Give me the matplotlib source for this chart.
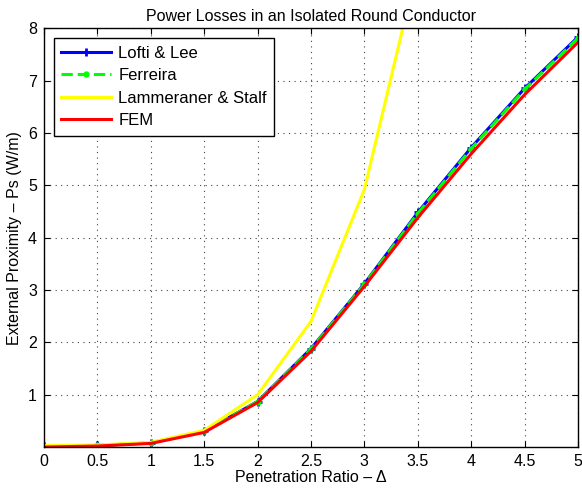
import matplotlib
matplotlib.use('Agg')
import matplotlib.pyplot as plt

plt.rcParams['font.family'] = ['Liberation Sans', 'DejaVu Sans']

# penetration ratio
delta = [0, 0.5, 1, 1.5, 2, 2.5, 3, 3.5, 4, 4.5, 5]

# losses (W/m)
lofti_lee = [0.02, 0.03, 0.08, 0.30, 0.87, 1.88, 3.12, 4.48, 5.72, 6.85, 7.83]
ferreira = [0.02, 0.03, 0.08, 0.30, 0.87, 1.87, 3.11, 4.46, 5.70, 6.83, 7.81]
lammeraner = [0.03, 0.04, 0.09, 0.32, 1.00, 2.40, 4.92, 9.20, 14.0, 20.0, 27.0]
fem = [0.00, 0.02, 0.07, 0.28, 0.85, 1.83, 3.07, 4.38, 5.60, 6.73, 7.73]

xticks = [0, 0.5, 1, 1.5, 2, 2.5, 3, 3.5, 4, 4.5, 5]
xticklabels = ['0', '0.5', '1', '1.5', '2', '2.5', '3', '3.5', '4', '4.5', '5']
yticks = [1, 2, 3, 4, 5, 6, 7, 8]

fs = 11.5

fig = plt.figure(figsize=(5.82, 4.94), dpi=100)
ax = fig.add_axes([0.0756, 0.095, 0.9175, 0.848])

ax.plot(delta, lofti_lee, color='blue', lw=2.2, marker='+', ms=6, mew=2, label='Lofti & Lee')
ax.plot(delta, ferreira, color='#00ff00', lw=2.2, ls='--', marker='.', ms=7, label='Ferreira')
ax.plot(delta, lammeraner, color='yellow', lw=2.2, label='Lammeraner & Stalf')
ax.plot(delta, fem, color='red', lw=2.2, label='FEM')

ax.set_xlim(0, 5)
ax.set_ylim(0, 8)
ax.set_xticks(xticks)
ax.set_xticklabels(xticklabels)
ax.set_yticks(yticks)
ax.tick_params(direction='in', top=True, right=True, labelsize=fs, length=4, pad=5)
ax.grid(True, color='#444444', ls=(0, (1, 4)), lw=0.8)
for s in ax.spines.values():
    s.set_linewidth(1.0)

ax.set_title('Power Losses in an Isolated Round Conductor', fontsize=fs, pad=5)
ax.set_xlabel('Penetration Ratio – Δ', fontsize=fs, labelpad=1)
ax.set_ylabel('External Proximity – Ps (W/m)', fontsize=fs, labelpad=4)

leg = ax.legend(loc='upper left', fontsize=12, fancybox=False, framealpha=1,
                edgecolor='black', borderaxespad=0.6, handlelength=3.0,
                handletextpad=0.4, labelspacing=0.45, borderpad=0.45)
leg.get_frame().set_linewidth(1.0)

fig.savefig('out.png', dpi=100)
